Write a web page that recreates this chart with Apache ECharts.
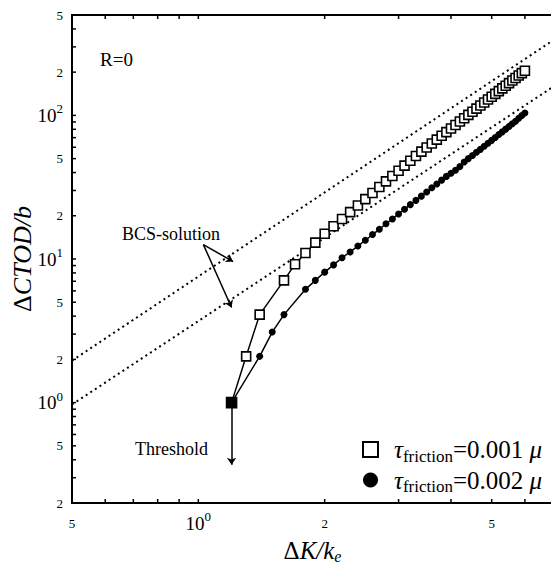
<!DOCTYPE html>
<html><head><meta charset="utf-8">
<script src="https://cdn.jsdelivr.net/npm/echarts@6/dist/echarts.min.js"></script>
<style>html,body{margin:0;padding:0;background:#fff}#c{width:551px;height:566px}</style>
</head><body><div id="c"></div>
<script>
// ---- data ----
const sqX = [1.2,1.3,1.4,1.6,1.7,1.8,1.9,2.0,2.1,2.2,2.3,2.4,2.5,2.6,2.7,2.8,2.9,3.0,3.1,3.2,3.3,3.4,3.5,3.6,3.7,3.8,3.9,4.0,4.1,4.2,4.3,4.4,4.5,4.6,4.7,4.8,4.9,5.0,5.1,5.2,5.3,5.4,5.5,5.6,5.7,5.8,5.9,6.0];
const sqY = [1.0,2.1,4.1,7.1,9.2,11.0,13.0,15.0,16.9,19.0,21.2,23.6,26.1,28.8,31.7,34.7,37.8,41.2,44.7,48.3,52.2,55.9,59.7,63.7,67.8,72.1,76.5,81.0,85.8,90.6,95.6,100.8,106.1,111.5,117.1,122.9,128.9,134.9,141.2,147.6,154.2,160.9,167.8,174.8,182.1,189.5,197,204.7];
const ciX = [1.2,1.4,1.5,1.6,1.8,1.9,2.0,2.1,2.2,2.3,2.4,2.5,2.6,2.7,2.8,2.9,3.0,3.1,3.2,3.3,3.4,3.5,3.6,3.7,3.8,3.9,4.0,4.1,4.2,4.3,4.4,4.5,4.6,4.7,4.8,4.9,5.0,5.1,5.2,5.3,5.4,5.5,5.6,5.7,5.8,5.9,6.0];
const ciY = [1.0,2.1,3.1,4.1,6.15,7.1,8.1,9.1,10.2,11.2,12.3,13.5,14.8,16.1,17.6,19.0,20.6,22.2,23.9,25.6,27.4,29.3,31.3,33.3,35.4,37.6,39.5,41.5,44.0,47.3,50.0,52.6,55.3,58.0,60.9,63.9,67.0,70.2,73.5,76.8,80.2,83.8,87.4,91.1,95.5,99.8,104.0];
const bcsUpperX = [0.5, 7];
const bcsUpperY = [1.96, 333];
const bcsLowerX = [0.5, 7];
const bcsLowerY = [0.97, 158];
const thresholdArrow = [[1.2, 1.0], [1.2, 0.37]];
const bcsArrowFrom = [1.028, 12.6];
const bcsArrowTo = [[1.21, 9.6], [1.2, 4.6]];
const xLabelValues = [0.5, 1, 2, 5];
const xLabels = ['5', '10^0', '2', '5'];
const yLabelValues = [0.2, 0.5, 1, 2, 5, 10, 20, 50, 100, 200, 500];
const yLabels = ['2', '5', '10^0', '2', '5', '10^1', '2', '5', '10^2', '2', '5'];
const xTicks = [0.5,0.6,0.7,0.8,0.9,1,2,3,4,5,6,7];
const yTicks = [0.2,0.3,0.4,0.5,0.6,0.7,0.8,0.9,1,2,3,4,5,6,7,8,9,10,20,30,40,50,60,70,80,90,100,200,300,400,500];
const legendNames = ['0.001', '0.002'];

const X_MIN = 0.5, X_MAX = 7, Y_MIN = 0.2, Y_MAX = 500;
const SERIF = "'Liberation Serif', 'DejaVu Serif', serif";

function richLabel(s) {
  if (s.indexOf('^') >= 0) { const p = s.split('^'); return '{b|' + p[0] + '}{p|' + p[1] + '}'; }
  return '{m|' + s + '}';
}
const tickRich = {
  m: {fontSize: 13, fontFamily: SERIF, fill: '#000', color: '#000', lineHeight: 26},
  b: {fontSize: 19, fontFamily: SERIF, fill: '#000', color: '#000', lineHeight: 26},
  p: {fontSize: 13, fontFamily: SERIF, fill: '#000', color: '#000', lineHeight: 13, verticalAlign: 'top'}
};

const chart = echarts.init(document.getElementById('c'), null, {renderer: 'svg'});
const option = {
  animation: false,
  backgroundColor: '#fff',
  grid: {left: 72, top: 15, bottom: 63, right: -2, containLabel: false, outerBoundsMode: 'none',
         show: true, borderColor: '#000', borderWidth: 2, backgroundColor: 'transparent'},
  xAxis: {
    type: 'log', logBase: 10, min: X_MIN, max: X_MAX,
    axisLine: {show: false}, axisTick: {show: false}, axisLabel: {show: false}, splitLine: {show: false}, minorTick: {show: false},
    name: '{d|Δ}{i|K/k}{s|e}', nameLocation: 'middle', nameGap: 33,
    nameTextStyle: {rich: {
      d: {fontSize: 25, fontFamily: SERIF, color: '#000', lineHeight: 28},
      i: {fontSize: 25, fontFamily: SERIF, fontStyle: 'italic', color: '#000', lineHeight: 28},
      s: {fontSize: 16, fontFamily: SERIF, fontStyle: 'italic', color: '#000', lineHeight: 16, verticalAlign: 'bottom'}
    }}
  },
  yAxis: {
    type: 'log', logBase: 10, min: Y_MIN, max: Y_MAX,
    axisLine: {show: false}, axisTick: {show: false}, axisLabel: {show: false}, splitLine: {show: false}, minorTick: {show: false},
    name: '{d|Δ}{i|CTOD/b}', nameLocation: 'middle', nameRotate: 90, nameGap: 37,
    nameTextStyle: {rich: {
      d: {fontSize: 26, fontFamily: SERIF, color: '#000'},
      i: {fontSize: 26, fontFamily: SERIF, fontStyle: 'italic', color: '#000'}
    }}
  },
  legend: {
    orient: 'vertical', left: 357, top: 432, itemWidth: 15, itemHeight: 15, itemGap: 3,
    data: [
      {name: legendNames[0], icon: 'rect', itemStyle: {color: '#fff', borderColor: '#000', borderWidth: 2}},
      {name: legendNames[1], icon: 'circle', itemStyle: {color: '#000', borderWidth: 0}}
    ],
    formatter: function (n) { return '{t|τ}{s|friction}{n|=' + n + ' }{u|μ}'; },
    textStyle: {rich: {
      t: {fontSize: 25, fontFamily: SERIF, fontStyle: 'italic', color: '#000', lineHeight: 30, padding: [0, 0, 0, 11]},
      s: {fontSize: 17, fontFamily: SERIF, color: '#000', lineHeight: 17, verticalAlign: 'bottom'},
      n: {fontSize: 25, fontFamily: SERIF, color: '#000', lineHeight: 30},
      u: {fontSize: 25, fontFamily: SERIF, fontStyle: 'italic', color: '#000', lineHeight: 30}
    }}
  },
  graphic: [
    {type: 'text', x: 100, y: 50, style: {text: 'R=0', font: '19px ' + SERIF, fill: '#000'}},
    {type: 'text', x: 122, y: 225, style: {text: 'BCS-solution', font: '18px ' + SERIF, fill: '#000'}},
    {type: 'text', x: 208, y: 440, style: {text: 'Threshold', font: '18px ' + SERIF, fill: '#000', align: 'right'}}
  ],
  series: [
    {type: 'line', name: 'bcsU', data: bcsUpperX.map((x, i) => [x, bcsUpperY[i]]), showSymbol: false, silent: true,
     lineStyle: {color: '#000', width: 2, type: [2, 3.5]}, z: 1},
    {type: 'line', name: 'bcsL', data: bcsLowerX.map((x, i) => [x, bcsLowerY[i]]), showSymbol: false, silent: true,
     lineStyle: {color: '#000', width: 2, type: [2, 3.5]}, z: 1},
    {type: 'line', name: legendNames[1], data: ciX.map((x, i) => [x, ciY[i]]), symbol: 'circle', symbolSize: 7,
     itemStyle: {color: '#000'}, lineStyle: {color: '#000', width: 1.5}, z: 3},
    {type: 'line', name: legendNames[0],
     data: sqX.map((x, i) => i === 0 ? {value: [x, sqY[i]], itemStyle: {color: '#000'}, symbolSize: 10} : [x, sqY[i]]),
     symbol: 'rect', symbolSize: 9,
     itemStyle: {color: '#fff', borderColor: '#000', borderWidth: 1.6}, lineStyle: {color: '#000', width: 1.5}, z: 4},
    {type: 'lines', coordinateSystem: 'cartesian2d', silent: true, z: 5,
     symbol: ['none', 'arrow'], symbolSize: 7,
     lineStyle: {color: '#000', width: 1.5, opacity: 1},
     data: [{coords: thresholdArrow}].concat(bcsArrowTo.map(t => ({coords: [bcsArrowFrom, t]})))},
    {type: 'custom', name: 'yticks', silent: true, clip: false, z: 6,
     data: yTicks.map(v => [X_MIN, v]),
     renderItem: function (params, api) {
       const p = api.coord([X_MIN, api.value(1)]);
       return {type: 'line', shape: {x1: p[0], y1: p[1], x2: p[0] + 4, y2: p[1]}, style: {stroke: '#000', lineWidth: 1.5}};
     }},
    {type: 'custom', name: 'xticks', silent: true, clip: false, z: 6,
     data: xTicks.map(v => [v, Y_MIN]),
     renderItem: function (params, api) {
       const p = api.coord([api.value(0), Y_MIN]);
       const q = api.coord([api.value(0), Y_MAX]);
       return {type: 'group', children: [
         {type: 'line', shape: {x1: p[0], y1: p[1], x2: p[0], y2: p[1] - 4}, style: {stroke: '#000', lineWidth: 1.5}},
         {type: 'line', shape: {x1: q[0], y1: q[1], x2: q[0], y2: q[1] + 4}, style: {stroke: '#000', lineWidth: 1.5}}
       ]};
     }},
    {type: 'custom', name: 'ylabels', silent: true, clip: false, z: 6,
     data: yLabelValues.map((v, i) => [X_MIN, v, i]),
     renderItem: function (params, api) {
       const p = api.coord([X_MIN, api.value(1)]);
       return {type: 'text', x: p[0] - 9, y: p[1],
         style: {text: richLabel(yLabels[api.value(2)]), align: 'right', verticalAlign: 'middle', fill: '#000', rich: tickRich}};
     }},
    {type: 'custom', name: 'xlabels', silent: true, clip: false, z: 6,
     data: xLabelValues.map((v, i) => [v, Y_MIN, i]),
     renderItem: function (params, api) {
       const p = api.coord([api.value(0), Y_MIN]);
       return {type: 'text', x: p[0], y: p[1] + 20,
         style: {text: richLabel(xLabels[api.value(2)]), align: 'center', verticalAlign: 'middle', fill: '#000', rich: tickRich}};
     }}
  ]
};
chart.setOption(option);
</script>
</body></html>
